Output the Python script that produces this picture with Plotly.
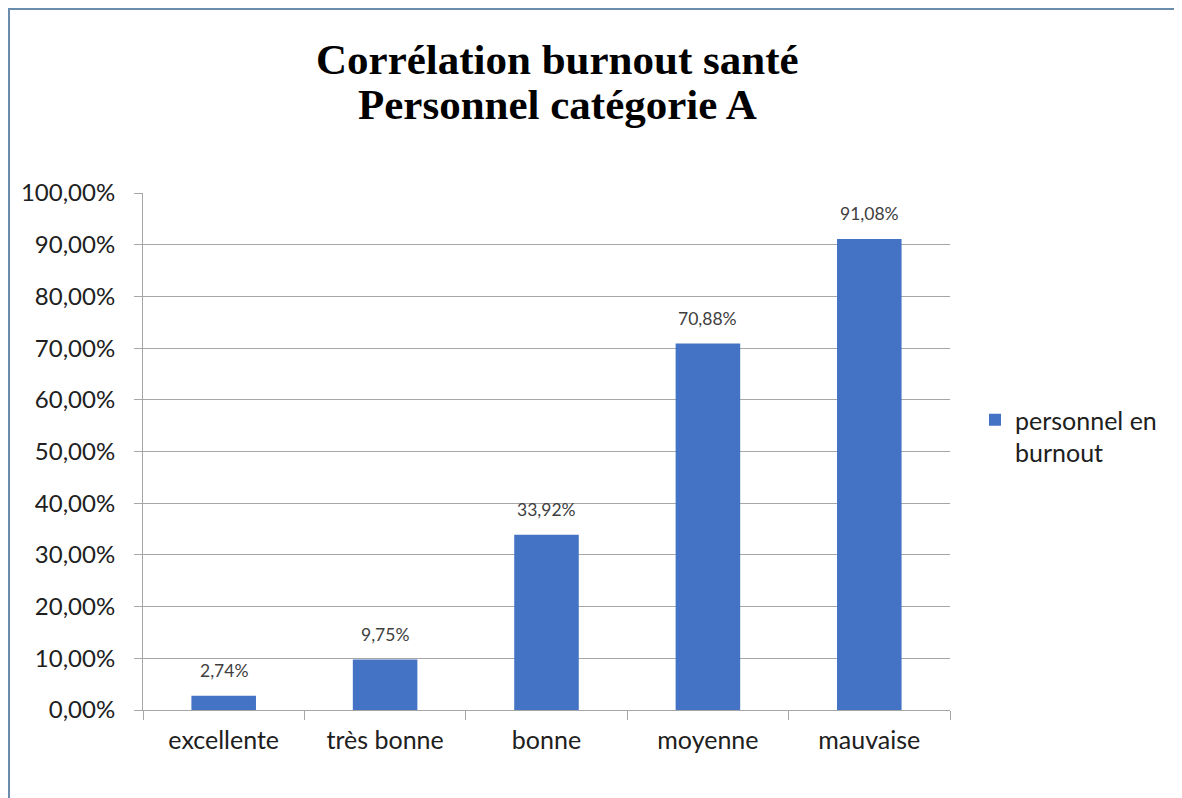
import plotly.graph_objects as go

categories = ["excellente", "très bonne", "bonne", "moyenne", "mauvaise"]
burnout_pct = [2.74, 9.75, 33.92, 70.88, 91.08]
series_name = "personnel en<br>burnout"
title_lines = ["Corrélation burnout santé", "Personnel catégorie A"]
tick_vals = [0, 10, 20, 30, 40, 50, 60, 70, 80, 90, 100]
tick_text = [f"{v:.2f}".replace(".", ",") + "%" for v in tick_vals]
bar_labels = [f"{v:.2f}".replace(".", ",") + "%" for v in burnout_pct]

OFF = 8  # page body margin
W, H = 1182 - OFF, 798 - OFF
L, T = 143 - OFF, 193 - OFF
R = W - (950 - OFF)
B = H - (710 - OFF)
pw, ph = W - L - R, H - T - B


def px_x(p):
    return (p - OFF - L) / pw


def px_y(p):
    return (H - B - (p - OFF)) / ph


font_fam = "Lato, Calibri, Carlito, 'Open Sans', sans-serif"
serif = "'Liberation Serif', 'Times New Roman', serif"

fig = go.Figure()
fig.add_trace(go.Bar(
    x=categories, y=burnout_pct, name=series_name,
    marker=dict(color="#4472C4", line=dict(width=0)),
    showlegend=True,
))

annotations = []
for c, v, lab in zip(categories, burnout_pct, bar_labels):
    annotations.append(dict(
        x=c, y=v, xref="x", yref="y", text=lab, showarrow=False,
        yanchor="bottom", yshift=13,
        font=dict(size=17.5, color="#404040", family=font_fam),
    ))
for line, cy in zip(title_lines, [59, 105]):
    annotations.append(dict(
        x=px_x(557), y=px_y(cy), xref="paper", yref="paper",
        xanchor="center", yanchor="middle", showarrow=False,
        text=f"<b>{line}</b>",
        font=dict(family=serif, size=43, color="black"),
    ))

fig.update_layout(
    width=W, height=H,
    margin=dict(l=L, r=R, t=T, b=B),
    paper_bgcolor="white", plot_bgcolor="white",
    bargap=0.6,
    annotations=annotations,
    legend=dict(
        x=px_x(975), y=px_y(397), xanchor="left", yanchor="top",
        font=dict(size=25, family=font_fam, color="#202020"),
        itemwidth=30, bgcolor="rgba(0,0,0,0)", valign="top",
    ),
    xaxis=dict(
        showline=True, linecolor="#A6A6A6", linewidth=1,
        ticks="outside", ticklen=9, tickcolor="#A6A6A6",
        tickson="boundaries", ticklabelstandoff=8,
        tickfont=dict(size=25, family=font_fam, color="#202020"),
        showgrid=False,
    ),
    yaxis=dict(
        range=[0, 100], tickvals=tick_vals, ticktext=tick_text,
        showline=True, linecolor="#A6A6A6", linewidth=1,
        ticks="outside", ticklen=8, tickcolor="#A6A6A6",
        ticklabelstandoff=14,
        showgrid=True, gridcolor="#A6A6A6", gridwidth=1,
        tickfont=dict(size=24, family=font_fam, color="#202020"),
        zeroline=False,
    ),
    shapes=[dict(
        type="rect", xref="paper", yref="paper",
        x0=px_x(OFF + 1), x1=px_x(1300), y0=px_y(900), y1=px_y(OFF + 1),
        line=dict(color="#6A8CAF", width=2), fillcolor="rgba(0,0,0,0)", layer="below",
    )],
)

fig.write_html("out.html")
